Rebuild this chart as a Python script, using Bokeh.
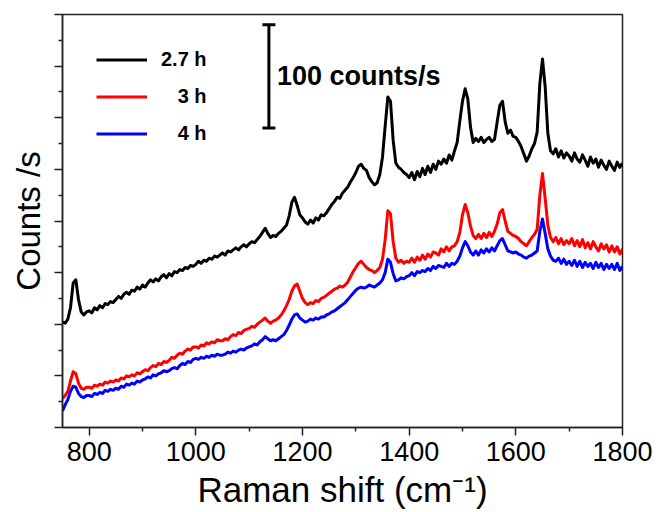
from bokeh.plotting import figure
from bokeh.models import (Range1d, FixedTicker, CustomJSTickFormatter, Legend,
                          LegendItem, Label, Arrow, TeeHead)
from bokeh.embed import file_html
from bokeh.resources import INLINE

# ---------------- data ----------------
raman_shift = list(range(750, 1805, 5))

counts_2_7h = [
    102, 101, 105, 116, 140, 143, 124, 112, 109, 112,
    113, 111, 116, 114, 118, 116, 120, 119, 122, 121,
    124, 127, 125, 129, 131, 129, 133, 132, 136, 134,
    138, 136, 140, 143, 141, 144, 142, 146, 148, 145,
    149, 147, 151, 150, 153, 152, 155, 154, 157, 156,
    158, 161, 159, 162, 161, 164, 163, 166, 165, 167,
    169, 167, 171, 170, 172, 174, 172, 175, 177, 175,
    178, 180, 179, 182, 185, 189, 193, 188, 184, 186,
    185, 188, 190, 193, 196, 205, 218, 223, 215, 206,
    203, 199, 197, 201, 198, 203, 201, 206, 205, 208,
    212, 216, 219, 223, 222, 227, 230, 233, 238, 242,
    247, 253, 255, 251, 249, 242, 238, 235, 237, 245,
    262, 292, 320, 316, 278, 256, 252, 250, 247, 245,
    242, 247, 240, 248, 243, 251, 245, 253, 247, 255,
    250, 258, 255, 260, 256, 264, 259, 268, 276, 297,
    316, 328, 318, 291, 276, 280, 277, 281, 276, 279,
    281, 277, 279, 296, 312, 316, 296, 285, 288, 282,
    281, 277, 272, 265, 258, 263, 270, 275, 286, 333,
    357, 330, 285, 268, 265, 270, 262, 268, 261, 266,
    263, 258, 266, 260, 257, 264, 259, 253, 262, 256,
    260, 252, 259, 254, 250, 258, 253, 249, 257, 252,
    256,
]

counts_3h = [
    28, 31, 35, 45, 54, 52, 43, 38, 37, 39,
    39, 38, 41, 40, 42, 41, 44, 43, 45, 44,
    46, 45, 48, 47, 50, 49, 51, 50, 53, 52,
    54, 56, 55, 58, 60, 59, 62, 61, 64, 63,
    65, 68, 67, 70, 72, 71, 74, 76, 75, 78,
    78, 77, 80, 79, 82, 81, 83, 82, 85, 84,
    84, 86, 85, 88, 90, 89, 92, 91, 94, 95,
    96, 98, 97, 100, 102, 104, 106, 103, 101, 103,
    104, 106, 109, 113, 118, 124, 132, 137, 139, 132,
    125, 121, 119, 121, 120, 123, 122, 125, 126, 128,
    130, 132, 134, 135, 137, 136, 138, 141, 146, 151,
    155, 159, 161, 158, 155, 153, 152, 150, 152, 155,
    163, 182, 210, 207, 180, 164, 160, 162, 159, 161,
    160, 164, 160, 165, 162, 167, 163, 168, 165, 170,
    169, 167, 173, 170, 175, 171, 175, 176, 180, 189,
    206, 216, 208, 195, 186, 183, 187, 183, 188, 184,
    189, 185, 190, 197, 208, 211, 200, 190, 188, 186,
    185, 183, 180, 178, 176, 180, 184, 187, 192, 225,
    246, 222, 196, 184, 180, 184, 178, 183, 177, 181,
    178, 183, 176, 181, 175, 182, 174, 179, 173, 180,
    175, 171, 178, 173, 177, 170, 176, 170, 175, 168,
    173,
]

counts_4h = [
    16, 22, 27, 35, 40, 39, 33, 30, 29, 31,
    31, 30, 33, 32, 34, 33, 36, 35, 37, 36,
    38, 37, 40, 39, 42, 41, 43, 42, 45, 44,
    46, 47, 49, 48, 51, 50, 52, 53, 55, 54,
    55, 57, 58, 57, 60, 62, 61, 64, 63, 66,
    67, 66, 68, 67, 69, 68, 70, 69, 71, 70,
    70, 71, 73, 72, 74, 73, 75, 76, 75, 77,
    78, 79, 81, 80, 83, 85, 88, 86, 84, 85,
    84, 86, 88, 90, 94, 99, 105, 109, 110, 106,
    104, 102, 103, 105, 104, 106, 105, 107, 107, 109,
    110, 112, 113, 115, 117, 119, 121, 124, 127, 130,
    133, 135, 136, 135, 136, 138, 137, 136, 138, 140,
    143, 150, 163, 160, 149, 142, 143, 145, 144, 146,
    147, 150, 147, 151, 150, 152, 151, 154, 152, 156,
    154, 157, 156, 155, 159, 156, 159, 158, 161, 166,
    174, 180, 176, 170, 167, 171, 167, 172, 169, 173,
    170, 174, 171, 176, 181, 183, 177, 171, 170, 169,
    170, 168, 167, 165, 164, 166, 167, 169, 171, 190,
    202, 188, 173, 166, 162, 161, 164, 159, 163, 158,
    161, 157, 162, 156, 161, 155, 160, 156, 159, 154,
    160, 155, 159, 153, 158, 154, 158, 153, 159, 152,
    156,
]

series_labels = ["2.7 h", "\u2007\u20083 h", "\u2007\u20084 h"]
series_colors = ["#000000", "#ff0000", "#0000ff"]

x_major_ticks = [800, 1000, 1200, 1400, 1600, 1800]
x_minor_ticks = [900, 1100, 1300, 1500, 1700]
y_major_ticks = [0, 50, 100, 150, 200, 250, 300, 350, 400]
y_minor_ticks = [25, 75, 125, 175, 225, 275, 325, 375]

scale_bar_x = 1137
scale_bar_bottom = 290
scale_bar_length = 100
scale_bar_text = "100 counts/s"

x_title = "Raman shift (cm\u207b\u00b9)"
y_title = "Counts /s"

FONT = "Liberation Sans"

# ---------------- figure ----------------
p = figure(width=656, height=512, output_backend="svg", toolbar_location=None,
           x_range=Range1d(750, 1800), y_range=Range1d(0, 400),
           min_border_left=62, min_border_right=34, min_border_top=14,
           min_border_bottom=85)
p.background_fill_color = "white"
p.border_fill_color = "white"
p.grid.visible = False
p.outline_line_color = "#222222"
p.outline_line_width = 1.5

renderers = []
for ys, col in zip([counts_2_7h, counts_3h, counts_4h], series_colors):
    r = p.line(raman_shift, ys, line_color=col, line_width=3, line_join="round")
    renderers.append(r)

# axes
xa = p.xaxis[0]
xa.ticker = FixedTicker(ticks=x_major_ticks, minor_ticks=x_minor_ticks)
xa.major_label_text_font = FONT
xa.major_label_text_font_size = "27px"
xa.major_label_text_color = "black"
xa.major_label_standoff = 6
xa.major_tick_out = 8
xa.major_tick_in = 0
xa.minor_tick_out = 4
xa.minor_tick_in = 0
xa.axis_line_width = 1.5
xa.axis_line_color = "#222222"
xa.major_tick_line_width = 1.5
xa.minor_tick_line_width = 1.5
xa.major_tick_line_color = "#222222"
xa.minor_tick_line_color = "#222222"
xa.axis_label = x_title
xa.axis_label_text_font = FONT
xa.axis_label_text_font_size = "35px"
xa.axis_label_text_font_style = "normal"
xa.axis_label_text_color = "black"
xa.axis_label_standoff = 6

ya = p.yaxis[0]
ya.ticker = FixedTicker(ticks=y_major_ticks, minor_ticks=y_minor_ticks)
ya.formatter = CustomJSTickFormatter(code="return ''")
ya.major_label_standoff = 0
ya.major_tick_out = 8
ya.major_tick_in = 0
ya.minor_tick_out = 4
ya.minor_tick_in = 0
ya.axis_line_width = 1.5
ya.axis_line_color = "#222222"
ya.major_tick_line_width = 1.5
ya.minor_tick_line_width = 1.5
ya.major_tick_line_color = "#222222"
ya.minor_tick_line_color = "#222222"
ya.axis_label = y_title
ya.axis_label_text_font = FONT
ya.axis_label_text_font_size = "33px"
ya.axis_label_text_font_style = "normal"
ya.axis_label_text_color = "black"
ya.axis_label_standoff = 8

# legend
legend = Legend(items=[LegendItem(label=lab, renderers=[r])
                       for lab, r in zip(series_labels, renderers)],
                location="top_left", padding=34, margin=0, spacing=14,
                glyph_width=51, glyph_height=19, label_height=19,
                label_standoff=14, label_text_font=FONT,
                label_text_font_style="bold", label_text_font_size="20px",
                label_text_color="black",
                border_line_alpha=0, background_fill_alpha=0)
p.add_layout(legend)

# scale bar
p.add_layout(Arrow(x_start=scale_bar_x, y_start=scale_bar_bottom,
                   x_end=scale_bar_x, y_end=scale_bar_bottom + scale_bar_length,
                   start=TeeHead(size=13, line_width=3, line_color="black"),
                   end=TeeHead(size=13, line_width=3, line_color="black"),
                   line_width=3, line_color="black"))
p.add_layout(Label(x=scale_bar_x, y=scale_bar_bottom + scale_bar_length / 2,
                   x_offset=8, text=scale_bar_text, text_baseline="middle",
                   text_font=FONT, text_font_size="27px", text_font_style="bold",
                   text_color="black"))

open("out.html", "w").write(file_html(p, INLINE))
